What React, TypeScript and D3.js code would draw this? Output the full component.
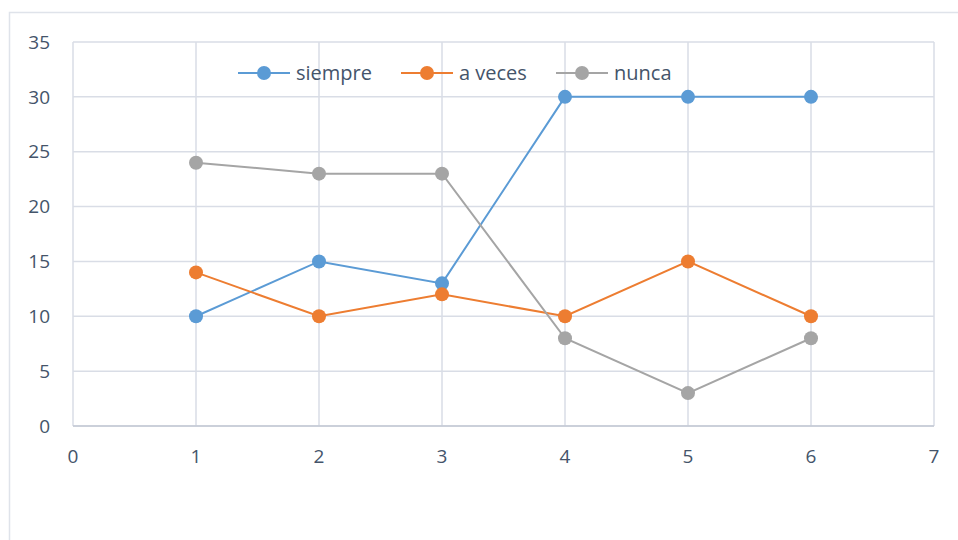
import React, { useEffect, useRef } from 'react';
import * as d3 from 'd3';

const xValues = [1, 2, 3, 4, 5, 6];
const siempre = [10, 15, 13, 30, 30, 30];
const aVeces = [14, 10, 12, 10, 15, 10];
const nunca = [24, 23, 23, 8, 3, 8];
const xTicks = [0, 1, 2, 3, 4, 5, 6, 7];
const yTicks = [0, 5, 10, 15, 20, 25, 30, 35];

const series = [
  { name: 'siempre', values: siempre, color: '#5b9bd5' },
  { name: 'a veces', values: aVeces, color: '#ed7d31' },
  { name: 'nunca', values: nunca, color: '#a5a5a5' },
];

const App: React.FC = () => {
  const ref = useRef<SVGSVGElement>(null);

  useEffect(() => {
    if (!ref.current) return;
    const svg = d3.select(ref.current);
    svg.selectAll('*').remove();

    const font = '"Open Sans", Lato, sans-serif';
    const textColor = '#44546a';
    const gridColor = '#d9dde6';

    const x = d3.scaleLinear().domain([0, 7]).range([73, 934]);
    const y = d3.scaleLinear().domain([0, 35]).range([426, 42]);

    // chart area border
    svg.append('rect')
      .attr('x', 9.5).attr('y', 12.5)
      .attr('width', 960).attr('height', 560)
      .attr('fill', '#fff')
      .attr('stroke', '#dfe3ea')
      .attr('stroke-width', 1.5);

    // gridlines
    svg.append('g').selectAll('line.h')
      .data(yTicks).enter().append('line')
      .attr('x1', x(0)).attr('x2', x(7))
      .attr('y1', d => y(d)).attr('y2', d => y(d))
      .attr('stroke', gridColor).attr('stroke-width', 1.5);
    svg.append('g').selectAll('line.v')
      .data(xTicks).enter().append('line')
      .attr('x1', d => x(d)).attr('x2', d => x(d))
      .attr('y1', y(0)).attr('y2', y(35))
      .attr('stroke', gridColor).attr('stroke-width', 1.5);

    // axis baseline
    svg.append('line')
      .attr('x1', x(0)).attr('x2', x(7))
      .attr('y1', y(0)).attr('y2', y(0))
      .attr('stroke', '#c3c9d4').attr('stroke-width', 1.5);

    // tick labels
    svg.append('g').selectAll('text')
      .data(yTicks).enter().append('text')
      .attr('x', 50).attr('y', d => y(d))
      .attr('dy', '0.35em')
      .attr('text-anchor', 'end')
      .style('font-family', font).style('font-size', '19px')
      .attr('fill', textColor)
      .text(d => d);
    svg.append('g').selectAll('text')
      .data(xTicks).enter().append('text')
      .attr('x', d => x(d)).attr('y', 456)
      .attr('dy', '0.35em')
      .attr('text-anchor', 'middle')
      .style('font-family', font).style('font-size', '19px')
      .attr('fill', textColor)
      .text(d => d);

    // series
    const line = d3.line<number>()
      .x((_, i) => x(xValues[i]))
      .y(d => y(d));

    series.forEach(s => {
      svg.append('path')
        .datum(s.values)
        .attr('d', line)
        .attr('fill', 'none')
        .attr('stroke', s.color)
        .attr('stroke-width', 2);
      svg.append('g').selectAll('circle')
        .data(s.values).enter().append('circle')
        .attr('cx', (_, i) => x(xValues[i]))
        .attr('cy', d => y(d))
        .attr('r', 7)
        .attr('fill', s.color);
    });

    // legend
    const legendX = [238, 401, 556];
    const legend = svg.append('g');
    series.forEach((s, i) => {
      const lx = legendX[i];
      legend.append('line')
        .attr('x1', lx).attr('x2', lx + 52)
        .attr('y1', 73).attr('y2', 73)
        .attr('stroke', s.color).attr('stroke-width', 2);
      legend.append('circle')
        .attr('cx', lx + 26).attr('cy', 73).attr('r', 7)
        .attr('fill', s.color);
      legend.append('text')
        .attr('x', lx + 58).attr('y', 73)
        .attr('dy', '0.35em')
        .style('font-family', font).style('font-size', '20px')
        .attr('fill', textColor)
        .text(s.name);
    });
  }, []);

  return (
    <svg
      ref={ref}
      width={958}
      height={540}
      style={{ position: 'absolute', left: 0, top: 0, background: '#fff' }}
    />
  );
};

export default App;
